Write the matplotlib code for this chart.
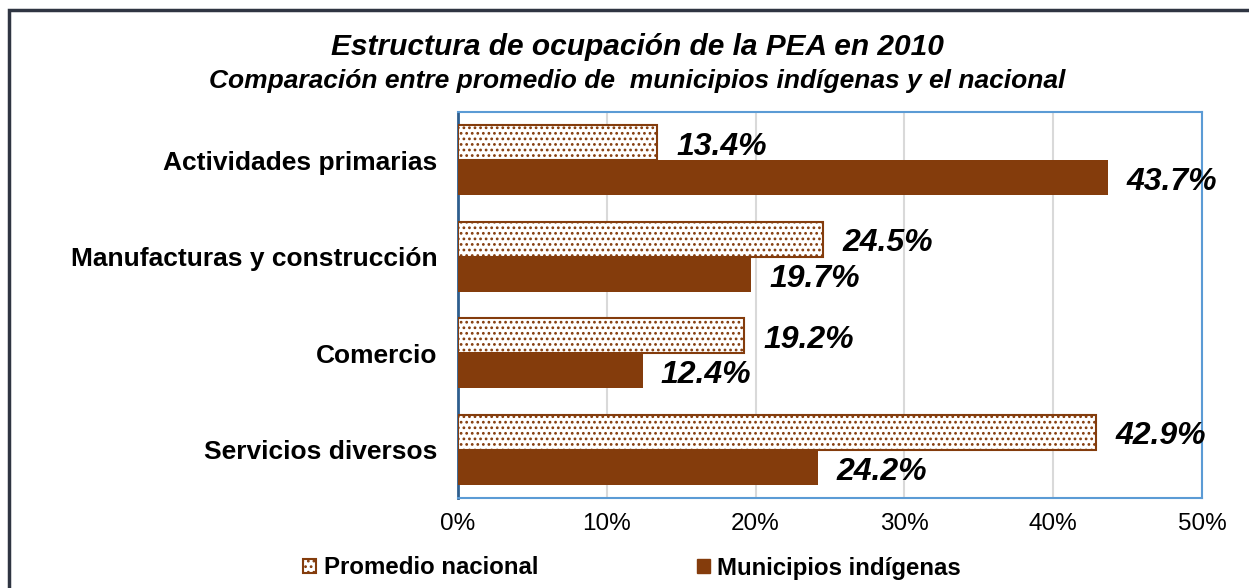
import matplotlib
matplotlib.use("Agg")
import matplotlib.pyplot as plt
import numpy as np
from matplotlib.patches import Patch, Rectangle

categories = ["Actividades primarias", "Manufacturas y construcción", "Comercio", "Servicios diversos"]
promedio_nacional = [13.4, 24.5, 19.2, 42.9]
municipios_indigenas = [43.7, 19.7, 12.4, 24.2]
xticks = [0, 10, 20, 30, 40, 50]
xtick_labels = ["0%", "10%", "20%", "30%", "40%", "50%"]

brown = "#843C0C"
plt.rcParams['font.family'] = ['Liberation Sans', 'DejaVu Sans']
plt.rcParams['hatch.linewidth'] = 1.2
plt.rcParams['hatch.color'] = brown

fig = plt.figure(figsize=(12.49, 5.88), dpi=100)
ax = fig.add_axes([458/1249, 1 - 498/588, (1202-458)/1249, (498-112)/588])

y = np.arange(len(categories))
h = 0.365
ax.barh(y - h/2, promedio_nacional, height=h, color="white", edgecolor=brown,
        hatch="...", linewidth=1.5, zorder=3)
ax.barh(y + h/2, municipios_indigenas, height=h, color=brown, edgecolor=brown,
        linewidth=0, zorder=3)

for yi, v in zip(y - h/2, promedio_nacional):
    ax.annotate(f"{v:.1f}%", (v, yi), xytext=(14, -3), textcoords="offset points",
                va="center", ha="left", fontsize=23, fontweight="bold",
                fontstyle="italic", zorder=5, annotation_clip=False)
for yi, v in zip(y + h/2, municipios_indigenas):
    ax.annotate(f"{v:.1f}%", (v, yi), xytext=(13, -3), textcoords="offset points",
                va="center", ha="left", fontsize=23, fontweight="bold",
                fontstyle="italic", zorder=5, annotation_clip=False)

ax.set_xlim(0, 50)
ax.set_ylim(len(categories) - 0.5, -0.5)
ax.set_yticks(y)
ax.set_yticklabels(categories, fontsize=19, fontweight="bold")
ax.set_xticks(xticks)
ax.set_xticklabels(xtick_labels, fontsize=17.5)
ax.tick_params(axis="both", length=0)
ax.tick_params(axis="x", pad=11)
ax.tick_params(axis="y", pad=15)
ax.grid(axis="x", color="#D9D9D9", linewidth=1.5, zorder=0)
for s in ["top", "right", "bottom"]:
    ax.spines[s].set_color("#5B9BD5")
    ax.spines[s].set_linewidth(1.5)
ax.spines["left"].set_color("#2E5E8E")
ax.spines["left"].set_linewidth(2)

fig.text(637/1249, 1 - 47/588, "Estructura de ocupación de la PEA en 2010",
         ha="center", va="center", fontsize=21.5, fontweight="bold", fontstyle="italic")
fig.text(637/1249, 1 - 81/588, "Comparación entre promedio de  municipios indígenas y el nacional",
         ha="center", va="center", fontsize=19, fontweight="bold", fontstyle="italic")

handles = [Patch(facecolor="white", edgecolor=brown, hatch="...", linewidth=1.5),
           Patch(facecolor=brown, edgecolor=brown)]
leg = fig.legend(handles, ["Promedio nacional", "Municipios indígenas"],
                 loc="center", bbox_to_anchor=(632/1249, 1 - 568/588), ncol=2,
                 frameon=False, prop={"size": 17.3, "weight": "bold"},
                 handlelength=0.55, handleheight=0.55, handletextpad=0.3,
                 columnspacing=6.6, borderpad=0)

fig.patches.append(Rectangle((9/1249, -0.1), 1.1, 1 - 10/588 + 0.1,
                             transform=fig.transFigure, fill=False,
                             edgecolor="#2F3542", linewidth=2.5))

fig.savefig("out.png", dpi=100)
